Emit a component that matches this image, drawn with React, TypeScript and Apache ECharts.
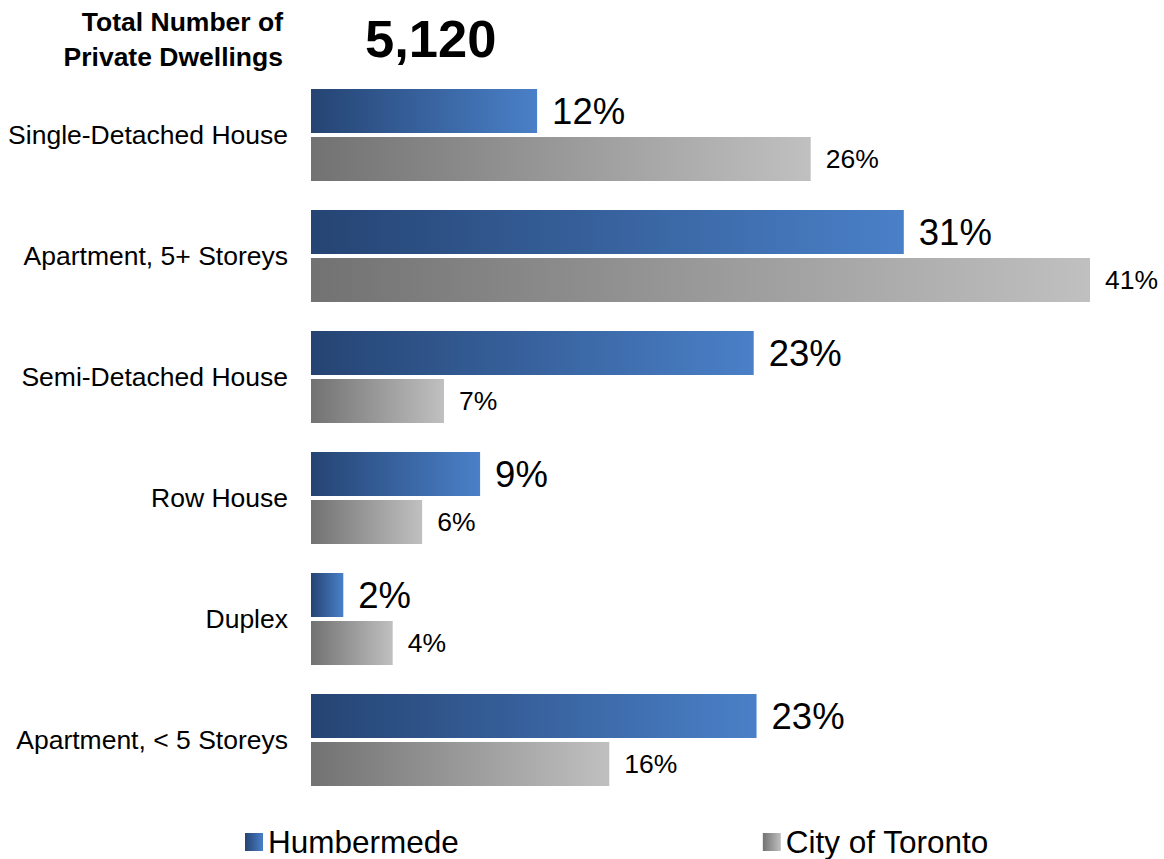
import React, { useEffect, useRef } from "react";
import * as echarts from "echarts";

const categories = [
  "Single-Detached House",
  "Apartment, 5+ Storeys",
  "Semi-Detached House",
  "Row House",
  "Duplex",
  "Apartment, < 5 Storeys",
];
const humbermede = [11.9, 31.2, 23.3, 8.9, 1.7, 23.45];
const toronto = [26.3, 41.0, 7.0, 5.85, 4.3, 15.7];
const seriesNames = ["Humbermede", "City of Toronto"];
const totalLabel = "Total Number of\nPrivate Dwellings";
const totalValue = "5,120";

const FONT = "'Liberation Sans', Arial, sans-serif";

const blueGrad = () =>
  new echarts.graphic.LinearGradient(0, 0, 1, 0, [
    { offset: 0, color: "#254473" },
    { offset: 1, color: "#4a80c8" },
  ]);
const grayGrad = () =>
  new echarts.graphic.LinearGradient(0, 0, 1, 0, [
    { offset: 0, color: "#727272" },
    { offset: 1, color: "#c0c0c0" },
  ]);

export default function App() {
  const ref = useRef<HTMLDivElement>(null);
  useEffect(() => {
    const chart = echarts.init(ref.current!, null, { renderer: "svg" });
    chart.setOption({
      animation: false,
      backgroundColor: "#ffffff",
      textStyle: { fontFamily: FONT },
      grid: { left: 311, top: 74.5, height: 726, width: 836 },
      xAxis: {
        type: "value",
        min: 0,
        max: 44,
        show: false,
      },
      yAxis: {
        type: "category",
        data: categories,
        inverse: true,
        axisLine: { show: false },
        axisTick: { show: false },
        splitLine: { show: false },
        axisLabel: {
          color: "#000",
          fontSize: 26.5,
          fontFamily: FONT,
          margin: 23,
        },
      },
      legend: {
        left: 240,
        top: 821,
        itemWidth: 18,
        itemHeight: 18,
        itemGap: 304,
        icon: "rect",
        textStyle: { fontSize: 31.5, color: "#000", fontFamily: FONT },
        data: seriesNames,
      },
      graphic: [
        {
          type: "text",
          x: 283,
          y: 4,
          style: {
            text: totalLabel,
            font: `bold 26.5px ${FONT}`,
            fill: "#000",
            align: "right",
            verticalAlign: "top",
            lineHeight: 35,
          },
        },
        {
          type: "text",
          x: 365,
          y: 12,
          style: {
            text: totalValue,
            font: `bold 52.5px ${FONT}`,
            fill: "#000",
            verticalAlign: "top",
          },
        },
      ],
      series: [
        {
          name: seriesNames[0],
          type: "bar",
          data: humbermede,
          barWidth: 44,
          barGap: "9%",
          itemStyle: { color: blueGrad() },
          label: {
            show: true,
            position: "right",
            distance: 15,
            color: "#000",
            fontSize: 36.5,
            fontFamily: FONT,
            formatter: (p: any) => Math.round(p.value) + "%",
          },
        },
        {
          name: seriesNames[1],
          type: "bar",
          data: toronto,
          barWidth: 44,
          barGap: "9%",
          itemStyle: { color: grayGrad() },
          label: {
            show: true,
            position: "right",
            distance: 15,
            color: "#000",
            fontSize: 26.5,
            fontFamily: FONT,
            formatter: (p: any) => Math.round(p.value) + "%",
          },
        },
      ],
    });
    return () => chart.dispose();
  }, []);
  return (
    <div
      ref={ref}
      style={{ position: "fixed", left: 0, top: 0, width: 1164, height: 859 }}
    />
  );
}
